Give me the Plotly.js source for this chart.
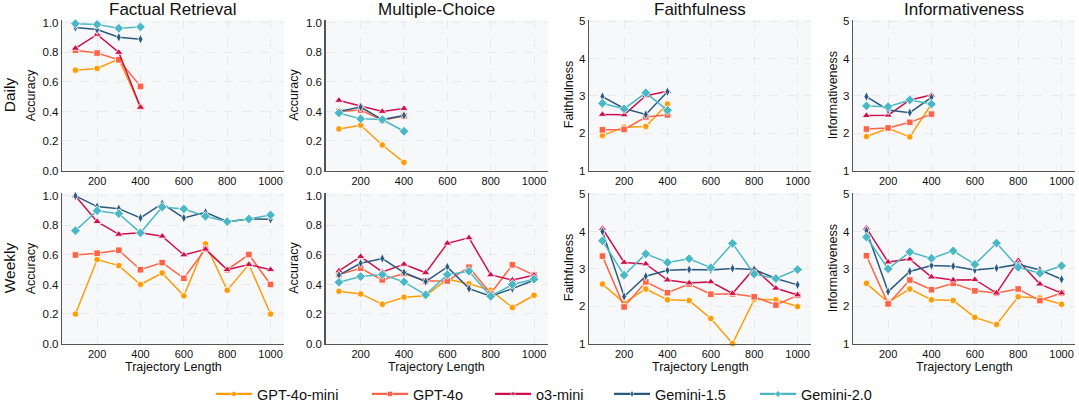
<!DOCTYPE html>
<html><head><meta charset="utf-8">
<script src="https://cdn.plot.ly/plotly-3.0.1.min.js"></script>
<style>html,body{margin:0;padding:0;background:#fff}#chart{width:1079px;height:417px}</style>
</head><body><div id="chart"></div>
<script>
// ---------------- DATA ----------------
const models = ["GPT-4o-mini", "GPT-4o", "o3-mini", "Gemini-1.5", "Gemini-2.0"];
const lengthsDaily = [100, 200, 300, 400];
const lengthsWeekly = [100, 200, 300, 400, 500, 600, 700, 800, 900, 1000];
const panelTitles = ["Factual Retrieval", "Multiple-Choice", "Faithfulness", "Informativeness"];
const yTitles = ["Accuracy", "Accuracy", "Faithfulness", "Informativeness"];
const rowLabels = ["Daily", "Weekly"];
const xTickVals = [200, 400, 600, 800, 1000];
const accTickVals = [0, 0.2, 0.4, 0.6, 0.8, 1.0];
const scoreTickVals = [1, 2, 3, 4, 5];

// rows ordered as models
const dailyFactual = [
  [0.68, 0.692, 0.755, 0.43],
  [0.815, 0.796, 0.75, 0.57],
  [0.828, 0.923, 0.80, 0.428],
  [0.97, 0.955, 0.903, 0.89],
  [0.995, 0.99, 0.964, 0.973]
];
const dailyMC = [
  [0.282, 0.307, 0.173, 0.055],
  [0.40, 0.41, 0.34, 0.37],
  [0.475, 0.44, 0.40, 0.42],
  [0.40, 0.43, 0.345, 0.373],
  [0.39, 0.35, 0.345, 0.266]
];
const dailyFaith = [
  [1.94, 2.16, 2.18, 2.78],
  [2.09, 2.10, 2.43, 2.49],
  [2.50, 2.49, 3.00, 3.12],
  [2.98, 2.66, 2.50, 3.11],
  [2.80, 2.65, 3.08, 2.61]
];
const dailyInfo = [
  [1.91, 2.13, 1.90, 2.78],
  [2.11, 2.14, 2.29, 2.51],
  [2.47, 2.48, 2.89, 3.02],
  [2.98, 2.62, 2.55, 2.96],
  [2.73, 2.71, 2.89, 2.78]
];
const weeklyFactual = [
  [0.20, 0.569, 0.528, 0.40, 0.478, 0.323, 0.675, 0.361, 0.535, 0.20],
  [0.60, 0.612, 0.632, 0.50, 0.548, 0.442, 0.64, 0.50, 0.603, 0.40],
  [1.00, 0.826, 0.74, 0.75, 0.727, 0.60, 0.639, 0.50, 0.535, 0.50],
  [1.00, 0.928, 0.914, 0.851, 0.948, 0.851, 0.889, 0.826, 0.844, 0.842],
  [0.765, 0.90, 0.88, 0.75, 0.925, 0.912, 0.862, 0.826, 0.844, 0.871]
];
const weeklyMC = [
  [0.354, 0.336, 0.266, 0.314, 0.323, 0.436, 0.404, 0.361, 0.244, 0.327],
  [0.467, 0.51, 0.431, 0.474, 0.424, 0.424, 0.517, 0.339, 0.533, 0.463],
  [0.492, 0.589, 0.485, 0.537, 0.479, 0.679, 0.716, 0.465, 0.43, 0.463],
  [0.463, 0.544, 0.576, 0.481, 0.42, 0.519, 0.372, 0.32, 0.372, 0.429],
  [0.415, 0.454, 0.467, 0.418, 0.33, 0.467, 0.49, 0.32, 0.40, 0.436]
];
const weeklyFaith = [
  [2.59, 2.09, 2.46, 2.17, 2.15, 1.67, 1.00, 2.18, 2.17, 1.99],
  [3.34, 1.98, 2.65, 2.36, 2.59, 2.32, 2.33, 2.25, 2.03, 2.29],
  [4.08, 3.17, 3.13, 2.70, 2.62, 2.65, 2.34, 3.01, 2.48, 2.30],
  [4.00, 2.26, 2.80, 2.96, 2.98, 2.97, 3.01, 2.98, 2.74, 2.57],
  [3.75, 2.83, 3.40, 3.17, 3.27, 3.03, 3.68, 2.86, 2.74, 2.98]
];
const weeklyInfo = [
  [2.61, 2.10, 2.46, 2.17, 2.15, 1.70, 1.51, 2.25, 2.22, 2.05],
  [3.35, 2.06, 2.70, 2.44, 2.61, 2.41, 2.35, 2.46, 2.15, 2.35],
  [4.09, 3.18, 3.26, 2.78, 2.70, 2.71, 2.35, 3.22, 2.59, 2.35],
  [4.02, 2.39, 2.93, 3.09, 3.07, 2.97, 3.02, 3.12, 2.97, 2.72],
  [3.85, 3.00, 3.45, 3.28, 3.48, 3.12, 3.69, 3.04, 2.88, 3.08]
];

// ---------------- STYLE ----------------
const colors = ["#ff9c0a", "#ff6347", "#d0104c", "#2b5a80", "#4cb8c6"];
const symbols = ["circle", "square", "triangle-up", "diamond-tall", "diamond"];
const sizes = [6.5, 6.5, 7.5, 7, 7.5];
const FONT = "Liberation Sans, Arial, Helvetica, sans-serif";
const W = 1079, H = 417;
const px = v => v / W, py = v => 1 - v / H;
const colLeft = [62, 325.5, 589, 853], colW = 222;
const rowTop = [20, 193], rowH = 150.5;

const panels = [
  [dailyFactual, dailyMC, dailyFaith, dailyInfo],
  [weeklyFactual, weeklyMC, weeklyFaith, weeklyInfo]
];
const xsByRow = [lengthsDaily, lengthsWeekly];

const traces = [];
const layout = {
  width: W, height: H,
  margin: {l: 0, r: 0, t: 0, b: 0},
  paper_bgcolor: "#ffffff",
  plot_bgcolor: "#f7f8fa",
  font: {family: FONT, color: "#111"},
  showlegend: true,
  annotations: []
};

for (let r = 0; r < 2; r++) {
  for (let c = 0; c < 4; c++) {
    const idx = r * 4 + c + 1;
    const xa = "xaxis" + (idx === 1 ? "" : idx), ya = "yaxis" + (idx === 1 ? "" : idx);
    const xid = "x" + (idx === 1 ? "" : idx), yid = "y" + (idx === 1 ? "" : idx);
    const isAcc = c < 2;
    layout[xa] = {
      domain: [px(colLeft[c]), px(colLeft[c] + colW)],
      anchor: yid, range: [38, 1062],
      tickvals: xTickVals, ticks: "", ticklen: 0,
      showgrid: true, gridcolor: "#e2e5ea", griddash: "dash", gridwidth: 0.8,
      showline: true, linecolor: "#555", linewidth: 1.2, zeroline: false,
      tickfont: {size: 11, color: "#111"}, fixedrange: true
    };
    layout[ya] = {
      domain: [py(rowTop[r] + rowH), py(rowTop[r])],
      anchor: xid,
      range: isAcc ? [0, 1.02] : [1, 5.03],
      tickvals: isAcc ? accTickVals : scoreTickVals,
      tickformat: isAcc ? ".1f" : "d",
      ticks: "", ticklen: 0,
      showgrid: true, gridcolor: "#e2e5ea", griddash: "dash", gridwidth: 0.8,
      showline: true, linecolor: "#555", linewidth: 1.2, zeroline: false,
      tickfont: {size: 11.5, color: "#111"}, fixedrange: true
    };
    const data = panels[r][c];
    for (let m = 0; m < models.length; m++) {
      traces.push({
        type: "scatter", mode: "lines+markers",
        x: xsByRow[r], y: data[m], xaxis: xid, yaxis: yid,
        name: models[m], showlegend: false, cliponaxis: false,
        line: {color: colors[m], width: 1.5},
        marker: {symbol: symbols[m], size: sizes[m], color: colors[m], line: {color: "#ffffff", width: 0.8}}
      });
    }
    // y-axis title
    layout.annotations.push({
      text: yTitles[c], xref: "paper", yref: "paper",
      x: px(colLeft[c] - (isAcc ? 31 : 20)), y: py(rowTop[r] + rowH / 2),
      textangle: -90, showarrow: false, xanchor: "center", yanchor: "middle",
      font: {size: 12.5, color: "#111"}
    });
    if (r === 0) {
      layout.annotations.push({
        text: panelTitles[c], xref: "paper", yref: "paper",
        x: px(colLeft[c] + colW / 2), y: py(10), showarrow: false,
        xanchor: "center", yanchor: "middle", font: {size: 17, color: "#111"}
      });
    } else {
      layout.annotations.push({
        text: "Trajectory Length", xref: "paper", yref: "paper",
        x: px(colLeft[c] + colW / 2), y: py(367), showarrow: false,
        xanchor: "center", yanchor: "middle", font: {size: 12.5, color: "#111"}
      });
    }
  }
  layout.annotations.push({
    text: rowLabels[r], xref: "paper", yref: "paper",
    x: px(9), y: py(rowTop[r] + rowH / 2), textangle: -90, showarrow: false,
    xanchor: "center", yanchor: "middle", font: {size: 15.5, color: "#111"}
  });
}

// legend entries: one legend per model so spacing follows the reference
const legendLineStart = [216, 372, 495, 614, 760];
for (let m = 0; m < models.length; m++) {
  const key = m === 0 ? "legend" : "legend" + (m + 1);
  layout[key] = {
    orientation: "h", x: px(legendLineStart[m] - 5), xanchor: "left",
    y: py(394), yanchor: "middle", bgcolor: "rgba(0,0,0,0)",
    font: {size: 14.5, color: "#111"}, itemwidth: 36, borderwidth: 0
  };
  traces.push({
    type: "scatter", mode: "lines+markers", x: [null], y: [null],
    name: models[m], legend: key, showlegend: true, hoverinfo: "skip",
    line: {color: colors[m], width: 2.2},
    marker: {symbol: symbols[m], size: 5, color: colors[m], line: {color: "#ffffff", width: 0.5}}
  });
}

Plotly.newPlot("chart", traces, layout, {displayModeBar: false, staticPlot: true});
</script></body></html>
